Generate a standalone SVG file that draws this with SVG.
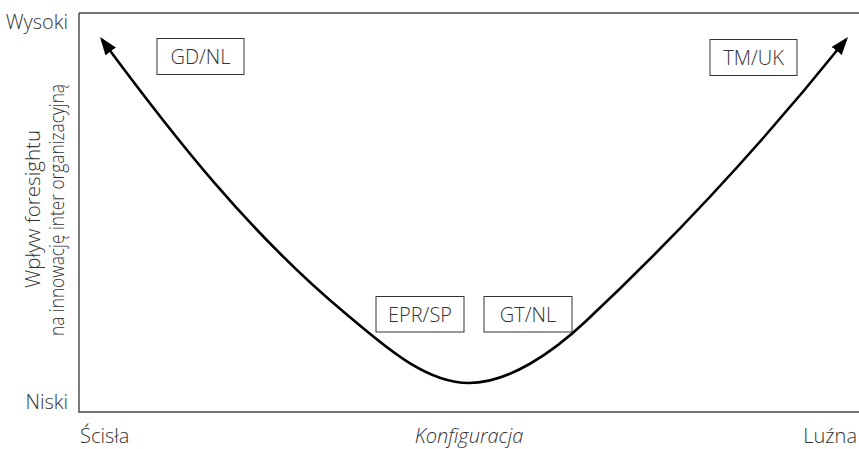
<svg xmlns="http://www.w3.org/2000/svg" width="859" height="449" viewBox="0 0 859 449">
<style>
text{font-family:"Open Sans","Liberation Sans",sans-serif;font-size:20px;fill:#333;font-weight:300}
.box{fill:#fff;stroke:#333;stroke-width:1}
.axis{fill:none;stroke:#444;stroke-width:1.4}
.curve{fill:none;stroke:#000;stroke-width:2.6}
</style>
<defs>
<marker id="ah" viewBox="0 0 18 13" markerWidth="18" markerHeight="13" refX="15" refY="6.5" orient="auto-start-reverse" markerUnits="userSpaceOnUse">
<path d="M0,0 L18,6.5 L0,13 z" fill="#000"/>
</marker>
</defs>
<g id="axes">
<path class="axis" d="M79,13 H859 M79,13 V412 H859"/>
</g>
<g id="axis-labels">
<text x="68" y="29" text-anchor="end">Wysoki</text>
<text x="68" y="409" text-anchor="end">Niski</text>
<text x="80" y="443">Ścisła</text>
<text x="469" y="443" text-anchor="middle" font-style="italic">Konfiguracja</text>
<text x="857" y="443" text-anchor="end">Luźna</text>
<text transform="translate(40,209) rotate(-90)" text-anchor="middle" textLength="158" lengthAdjust="spacingAndGlyphs">Wpływ foresightu</text>
<text transform="translate(64,210) rotate(-90)" text-anchor="middle" textLength="252" lengthAdjust="spacingAndGlyphs">na innowację inter organizacyjną</text>
</g>
<g id="connectors">
<path class="curve" marker-start="url(#ah)" marker-end="url(#ah)" d="M101.8,39.4 C173,136 250,234 345,313 C381,343 424,383 469,383 C509,383 553,352 585,322 C679,234 767,138 846.1,39.3"/>
</g>
<g id="node-gdnl">
<rect class="box" x="157" y="38.5" width="87" height="36"/>
<text x="200.5" y="63.5" text-anchor="middle">GD/NL</text>
</g>
<g id="node-tmuk">
<rect class="box" x="710" y="39.5" width="87" height="36"/>
<text x="753.5" y="64.5" text-anchor="middle">TM/UK</text>
</g>
<g id="node-eprsp">
<rect class="box" x="376" y="296.5" width="88" height="35.5"/>
<text x="420" y="321.5" text-anchor="middle">EPR/SP</text>
</g>
<g id="node-gtnl">
<rect class="box" x="484" y="296.5" width="88" height="35.5"/>
<text x="528" y="321.5" text-anchor="middle">GT/NL</text>
</g>
</svg>
